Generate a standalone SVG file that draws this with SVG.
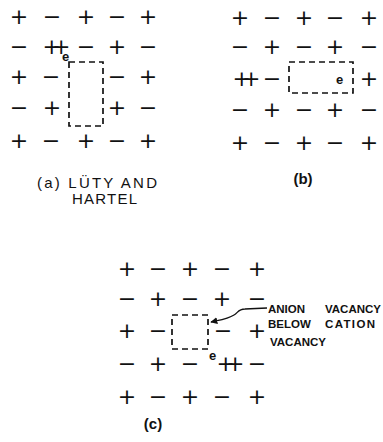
<svg xmlns="http://www.w3.org/2000/svg" width="383" height="442" viewBox="0 0 383 442">
<defs>
<style>
.s{font-family:"DejaVu Sans",sans-serif;font-size:22px;text-anchor:middle;fill:#111}
.d{letter-spacing:-9px}
.e{font-family:"Liberation Sans",Arial,sans-serif;font-weight:bold;font-size:13px;fill:#111}
.cap{font-family:"Liberation Sans",Arial,sans-serif;font-size:15px;fill:#111}
.lbl{font-family:"Liberation Sans",Arial,sans-serif;font-weight:bold;font-size:11.5px;fill:#111}
.box{fill:none;stroke:#111;stroke-width:1.7;stroke-dasharray:6 4}
.con{fill:none;stroke:#111;stroke-width:1.3}
</style>
<marker id="ah" viewBox="0 0 10 10" refX="9" refY="5" markerWidth="7" markerHeight="7" orient="auto-start-reverse" markerUnits="userSpaceOnUse"><path d="M0,0 L10,5 L0,10 z" fill="#111"/></marker>
</defs>
<rect width="383" height="442" fill="#fff"/>

<g id="panel-a">
<g class="s">
<text x="19" y="24">+</text><text x="52" y="24">−</text><text x="86" y="24">+</text><text x="117" y="24">−</text><text x="148" y="24">+</text>
<text x="19" y="54">−</text><text x="52" y="54" class="s d">++</text><text x="86" y="54">−</text><text x="117" y="54">+</text><text x="148" y="54">−</text>
<text x="19" y="84">+</text><text x="51" y="84">−</text><text x="117" y="84">−</text><text x="148" y="84">+</text>
<text x="19" y="115">−</text><text x="52" y="115">+</text><text x="117" y="115">+</text><text x="148" y="115">−</text>
<text x="19" y="148">+</text><text x="51" y="148">−</text><text x="86" y="148">+</text><text x="117" y="148">−</text><text x="148" y="148">+</text>
</g>
<rect class="box" x="69" y="62" width="34" height="64"/>
<text class="e" x="62" y="61">e</text>
<text class="cap" x="37" y="188" textLength="120" lengthAdjust="spacing">(a) LÜTY AND</text>
<text class="cap" x="72" y="204" textLength="65" lengthAdjust="spacing">HARTEL</text>
</g>

<g id="panel-b">
<g class="s">
<text x="240" y="25">+</text><text x="272" y="25">−</text><text x="304" y="25">+</text><text x="335" y="25">−</text><text x="369" y="25">+</text>
<text x="240" y="54">−</text><text x="272" y="54">+</text><text x="304" y="54">−</text><text x="335" y="54">+</text><text x="369" y="54">−</text>
<text x="242" y="86" class="s d">++</text><text x="272" y="86">−</text><text x="369" y="86">+</text>
<text x="240" y="117">−</text><text x="272" y="117">+</text><text x="304" y="117">−</text><text x="335" y="117">+</text><text x="369" y="117">−</text>
<text x="240" y="150">+</text><text x="272" y="150">−</text><text x="304" y="150">+</text><text x="335" y="150">−</text><text x="369" y="150">+</text>
</g>
<rect class="box" x="289" y="62" width="64" height="31"/>
<text class="e" x="336" y="84">e</text>
<text class="cap" x="303" y="184" text-anchor="middle" font-weight="bold">(b)</text>
</g>

<g id="panel-c">
<g class="s">
<text x="127" y="276">+</text><text x="158" y="276">−</text><text x="190" y="276">+</text><text x="222" y="276">−</text><text x="257" y="276">+</text>
<text x="127" y="306">−</text><text x="158" y="306">+</text><text x="190" y="306">−</text><text x="222" y="306">+</text><text x="257" y="306">−</text>
<text x="127" y="338">+</text><text x="158" y="338">−</text><text x="223" y="338">−</text><text x="257" y="338">+</text>
<text x="127" y="371">−</text><text x="158" y="371">+</text><text x="190" y="371">−</text><text x="226" y="371" class="s d">++</text><text x="257" y="371">−</text>
<text x="127" y="404">+</text><text x="158" y="404">−</text><text x="190" y="404">+</text><text x="222" y="404">−</text><text x="257" y="404">+</text>
</g>
<rect class="box" x="172" y="315" width="36" height="34"/>
<text class="e" x="209" y="360">e</text>
<text class="cap" x="153" y="429" text-anchor="middle" font-weight="bold">(c)</text>
</g>

<g id="label-anion" class="lbl">
<text x="268" y="313">ANION <tspan x="325">VACANCY</tspan></text>
<text x="268" y="328">BELOW <tspan x="325" textLength="50" lengthAdjust="spacing">CATION</tspan></text>
<text x="270" y="346">VACANCY</text>
</g>

<g id="connectors">
<path class="con" marker-end="url(#ah)" d="M267,308 L245,309 C238,309 238,313 234,315 C228,319 220,320 211,322"/>
</g>
</svg>
